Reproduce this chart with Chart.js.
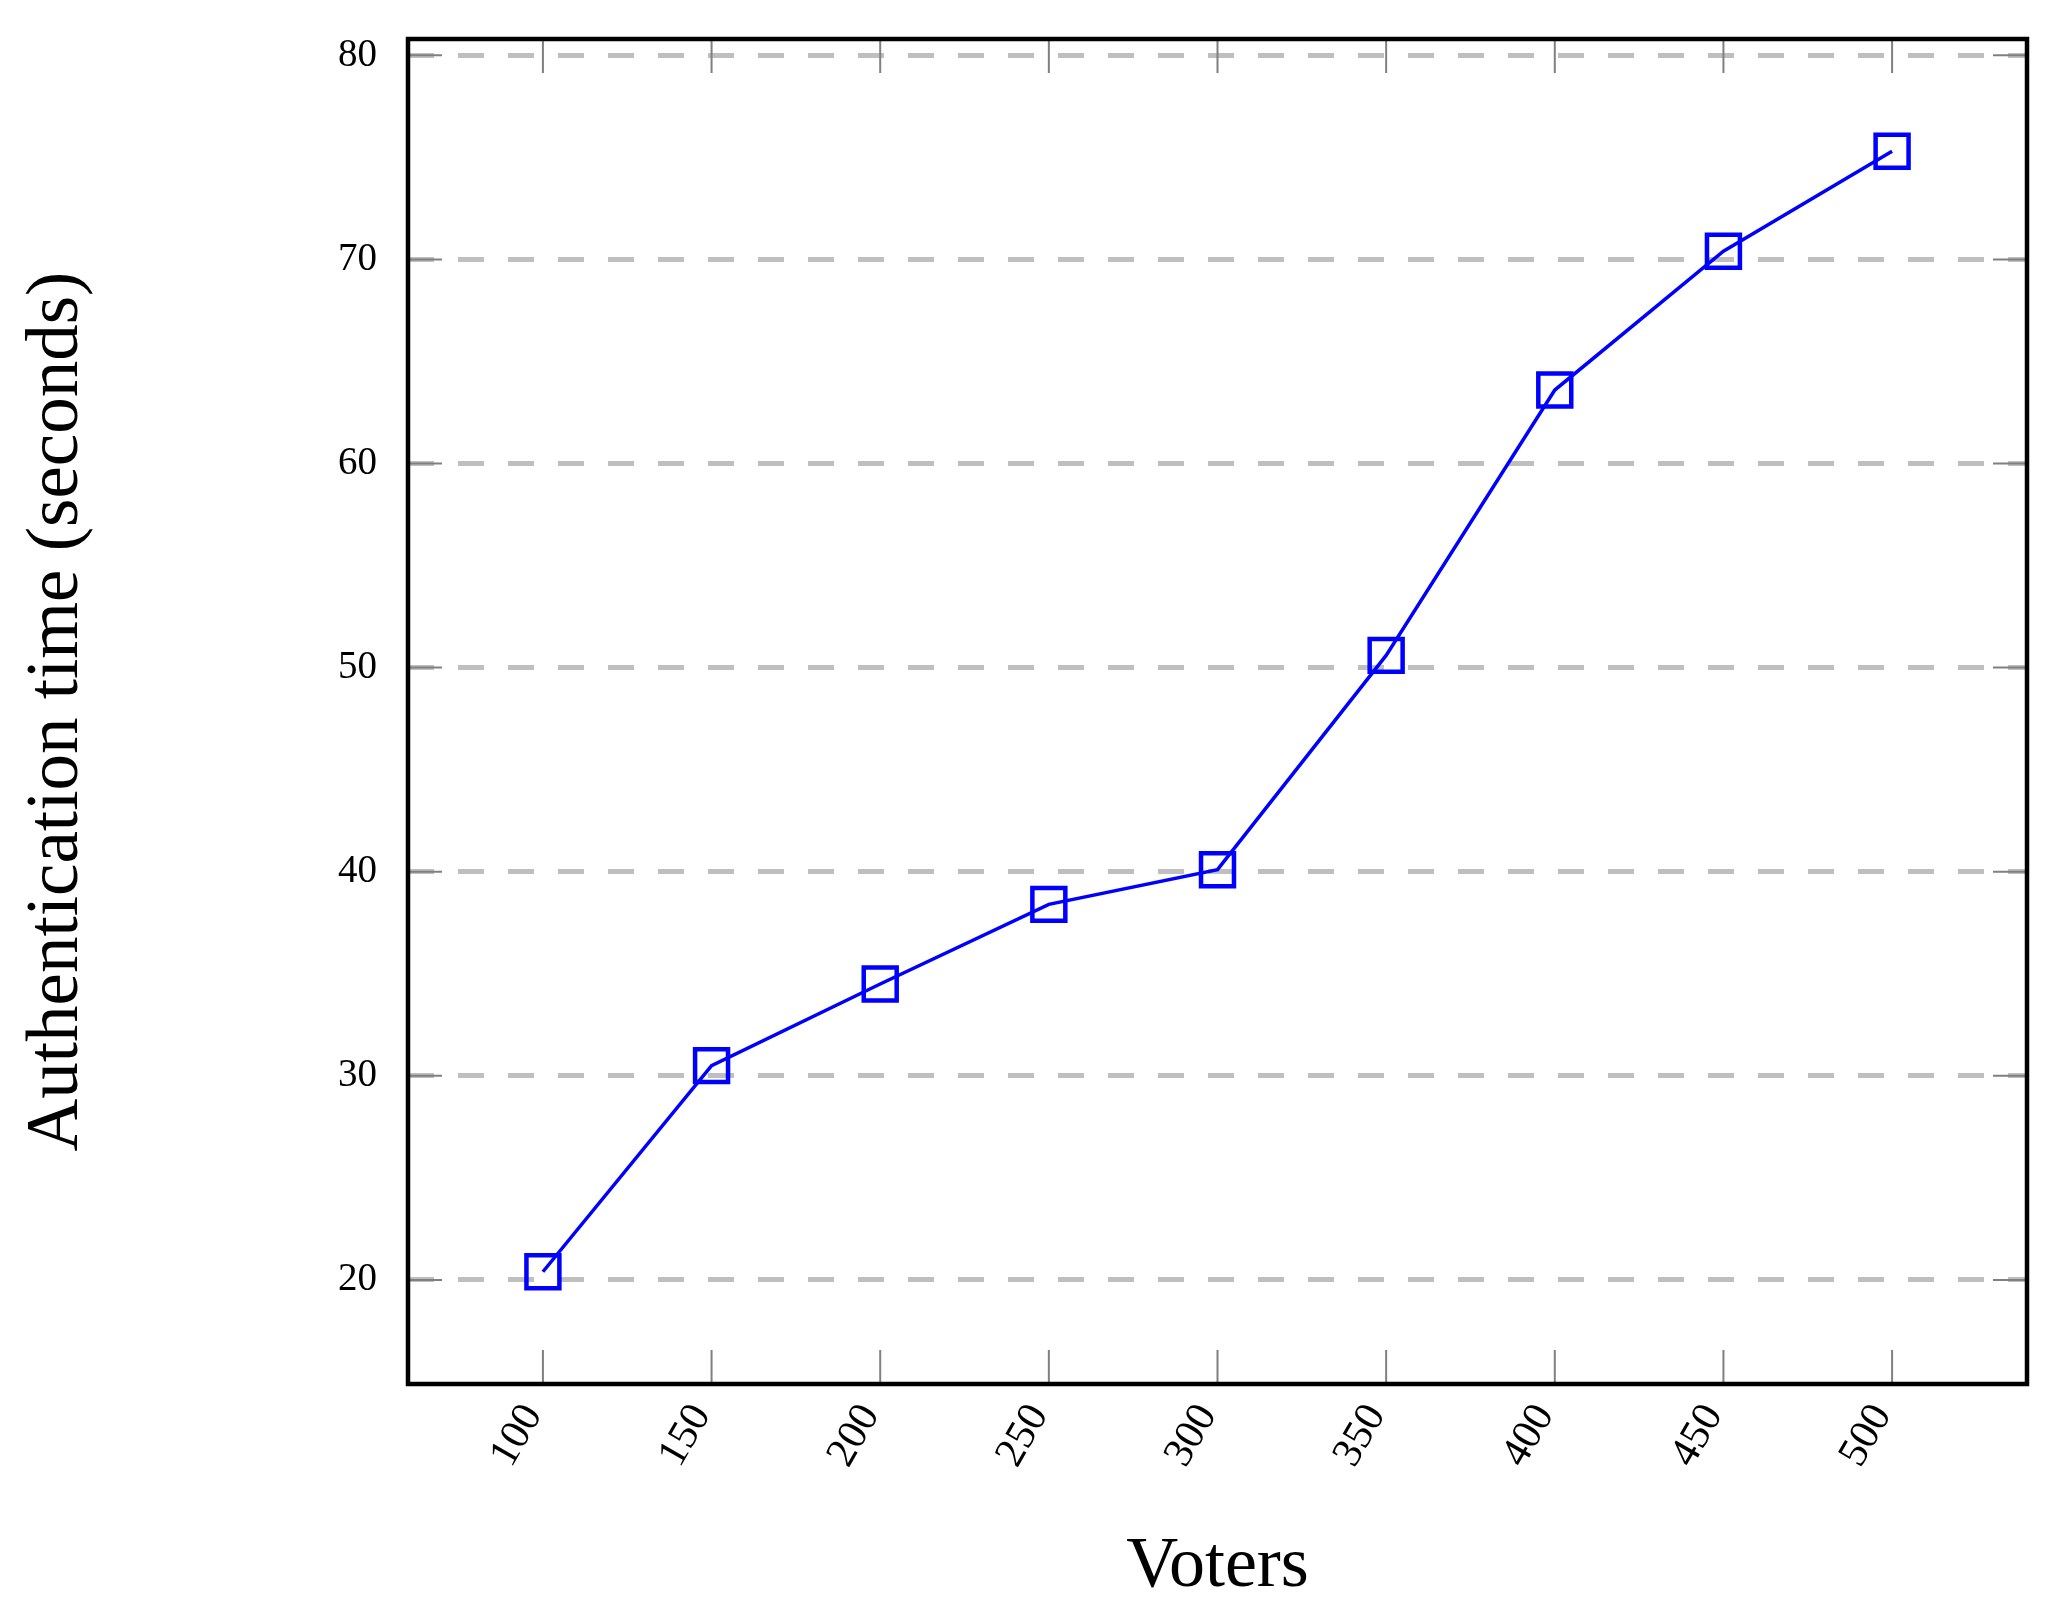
<!DOCTYPE html>
<html>
<head>
<meta charset="utf-8">
<title>Authentication time vs voters</title>
<script src="https://cdn.jsdelivr.net/npm/chart.js@4.4.1/dist/chart.umd.min.js"></script>
<style>
  html, body { margin: 0; padding: 0; background: #fff; }
  canvas { display: block; }
</style>
</head>
<body>
<canvas id="authChart" width="2068" height="1612"></canvas>
<script>
// values
const voters = [100, 150, 200, 250, 300, 350, 400, 450, 500];
const authTime = [20.4, 30.5, 34.5, 38.4, 40.1, 50.6, 63.6, 70.4, 75.3];
const xTicks = [100, 150, 200, 250, 300, 350, 400, 450, 500];
const yTicks = [20, 30, 40, 50, 60, 70, 80];

const serif = "'Liberation Serif', 'DejaVu Serif', serif";

// frame around the plot and short grey tick marks pointing inwards
const framePlugin = {
    id: 'frame',
    beforeDatasetsDraw(chart) {
        const { ctx, chartArea: a, scales } = chart;
        const len = 34;
        ctx.save();
        ctx.strokeStyle = '#808080';
        ctx.lineWidth = 2;
        ctx.beginPath();
        scales.x.ticks.forEach(t => {
            const px = scales.x.getPixelForValue(t.value);
            ctx.moveTo(px, a.bottom); ctx.lineTo(px, a.bottom - len);
            ctx.moveTo(px, a.top); ctx.lineTo(px, a.top + len);
        });
        scales.y.ticks.forEach(t => {
            const py = scales.y.getPixelForValue(t.value);
            ctx.moveTo(a.left, py); ctx.lineTo(a.left + len, py);
            ctx.moveTo(a.right, py); ctx.lineTo(a.right - len, py);
        });
        ctx.stroke();
        ctx.restore();
    },
    afterDraw(chart) {
        const { ctx, chartArea: a } = chart;
        ctx.save();
        ctx.strokeStyle = '#000';
        ctx.lineWidth = 4.5;
        ctx.strokeRect(a.left, a.top, a.right - a.left, a.bottom - a.top);
        ctx.restore();
    }
};

new Chart(document.getElementById('authChart'), {
    type: 'line',
    data: {
        datasets: [{
            label: 'Authentication time',
            data: voters.map((v, i) => ({ x: v, y: authTime[i] })),
            borderColor: '#0000ff',
            borderWidth: 3.5,
            tension: 0,
            pointStyle: 'rect',
            pointRadius: 23.3,
            pointHoverRadius: 23.3,
            pointBorderWidth: 4.5,
            pointBorderColor: '#0000ff',
            pointBackgroundColor: 'rgba(0,0,0,0)',
            clip: false
        }]
    },
    options: {
        responsive: false,
        animation: false,
        events: [],
        layout: { padding: { top: 39, right: 41, left: 0, bottom: 0 } },
        plugins: {
            legend: { display: false },
            tooltip: { enabled: false }
        },
        scales: {
            x: {
                type: 'linear',
                min: 60,
                max: 540,
                afterBuildTicks: s => { s.ticks = xTicks.map(v => ({ value: v })); },
                afterFit: s => {
                    s.height = 228;
                    s.paddingLeft = 0;
                    s.paddingRight = 0;
                },
                grid: { display: false, drawTicks: false },
                border: { display: false },
                ticks: {
                    minRotation: 60,
                    maxRotation: 60,
                    padding: 12,
                    labelOffset: -10,
                    color: '#000',
                    font: { family: serif, size: 42 }
                },
                title: {
                    display: true,
                    text: 'Voters',
                    color: '#000',
                    font: { family: serif, size: 72 },
                    padding: { top: 0, bottom: 2 }
                }
            },
            y: {
                min: 14.9,
                max: 80.8,
                afterBuildTicks: s => { s.ticks = yTicks.map(v => ({ value: v })); },
                afterFit: s => {
                    s.width = 408;
                    s.paddingTop = 0;
                    s.paddingBottom = 0;
                },
                grid: {
                    color: '#bfbfbf',
                    lineWidth: 5,
                    drawTicks: false
                },
                border: { display: false, dash: [26, 24] },
                ticks: {
                    padding: 31,
                    color: '#000',
                    font: { family: serif, size: 39 }
                },
                title: {
                    display: true,
                    text: 'Authentication time (seconds)',
                    color: '#000',
                    font: { family: serif, size: 73 },
                    padding: { top: 14, bottom: 0 }
                }
            }
        }
    },
    plugins: [framePlugin]
});
</script>
</body>
</html>
